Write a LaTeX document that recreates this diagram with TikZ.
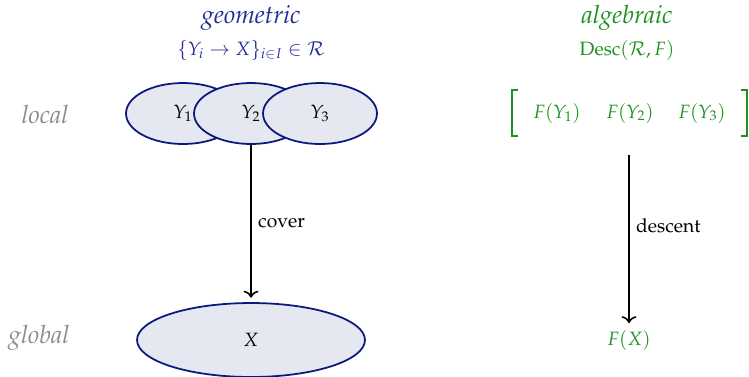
\documentclass[tikz,border=0pt,11pt]{standalone}
\usepackage[T1]{fontenc}
\usepackage{amsmath,amssymb}
\usepackage{mathpazo}
\usepackage{tikz}
\usetikzlibrary{shapes.geometric,arrows.meta}

\definecolor{geoblue}{RGB}{35,45,145}
\definecolor{edgeblue}{RGB}{10,25,125}
\definecolor{setfill}{RGB}{229,231,241}
\definecolor{alggreen}{RGB}{30,145,30}
\definecolor{levelgrey}{RGB}{140,140,140}

\begin{document}
\begin{tikzpicture}[x=0.02cm, y=-0.02cm,
	region/.style={ellipse, draw=edgeblue, fill=setfill, line width=1pt, inner sep=0pt},
	level/.style={font=\Large\itshape, text=levelgrey},
	head/.style={font=\Large\itshape},
	map/.style={-{To[width=8.5pt,length=4pt]}, line width=0.9pt}]
	\useasboundingbox (0,0) rectangle (749,376);
	% rows
	\node[level] (loc) at (45,114) {local};
	\node[level] (glob) at (39,338) {global};
	% geometric side
	\node[head, text=geoblue] (geo) at (251,18) {geometric};
	\node[text=geoblue] (cov) at (251,50) {$\{Y_i \to X\}_{i\in I} \in \mathcal{R}$};
	\foreach \x/\n in {183/1, 251/2, 320/3}
		\node[region, minimum width=2.28cm, minimum height=1.22cm] (Y\n) at (\x,113.5) {$Y_\n$};
	\node[region, minimum width=4.56cm, minimum height=1.48cm] (X) at (251,340) {$X$};
	\draw[map, shorten >=2.5pt] (Y2) -- node[right] {cover} (X);
	% algebraic side
	\node[head, text=alggreen] (alg) at (627,18) {algebraic};
	\node[text=alggreen] (desc) at (627,50) {$\mathrm{Desc}(\mathcal{R},F)$};
	\foreach \x/\n in {557/1, 630/2, 702/3}
		\node[text=alggreen] (FY\n) at (\x,113) {$F(Y_\n)$};
	\draw[alggreen, line width=0.8pt] (518,90) -- (512,90) -- (512,136) -- (518,136);
	\draw[alggreen, line width=0.8pt] (741,90) -- (747,90) -- (747,136) -- (741,136);
	\node[text=alggreen] (FX) at (629,340) {$F(X)$};
	\coordinate (stalk) at (629,155);
	\draw[map] (stalk) -- node[right, pos=0.42] {descent} (FX);
\end{tikzpicture}
\end{document}
